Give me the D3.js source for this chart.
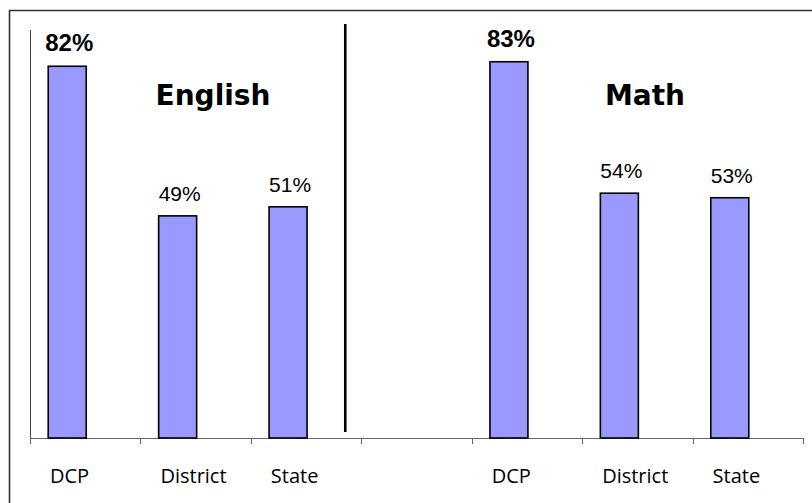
<!DOCTYPE html>
<html>
<head>
<meta charset="utf-8">
<script src="https://cdn.jsdelivr.net/npm/d3@7/dist/d3.min.js"></script>
<style>
  html, body { margin: 0; padding: 0; background: #fff; }
  svg { display: block; }
</style>
</head>
<body>
<svg id="chart" width="812" height="503"></svg>
<script>
// data
var subjects = ["English", "Math"];
var groups = ["DCP", "District", "State"];
var englishValues = [82, 49, 51];
var mathValues = [83, 54, 53];

var W = 812, H = 503;
var BASE_Y = 438, TOP_Y = 30;
var BAR_W = 38;
var TICK_SHIFT = 18; // axis ticks sit a bit right of the band edges

var svg = d3.select("#chart");

// 7 slots: 3 english, one empty, 3 math
var slots = [];
groups.forEach(function(g, i){ slots.push({slot: i, name: g, value: englishValues[i], subject: subjects[0]}); });
groups.forEach(function(g, i){ slots.push({slot: i + 4, name: g, value: mathValues[i], subject: subjects[1]}); });

var x = d3.scaleBand()
	.domain(d3.range(7))
	.range([12, 785])
	.paddingInner(0)
	.paddingOuter(0);

var y = d3.scaleLinear()
	.domain([0, 90])
	.range([BASE_Y, TOP_Y]);

// outer frame (only top and left visible)
svg.append("line")
	.attr("x1", 9).attr("x2", W)
	.attr("y1", 10.5).attr("y2", 10.5)
	.attr("stroke", "#333").attr("stroke-width", 1.6);
svg.append("line")
	.attr("x1", 9.5).attr("x2", 9.5)
	.attr("y1", 10).attr("y2", H)
	.attr("stroke", "#333").attr("stroke-width", 1.6);

// y axis line
svg.append("line")
	.attr("x1", 30.5).attr("x2", 30.5)
	.attr("y1", y(90)).attr("y2", BASE_Y)
	.attr("stroke", "#444").attr("stroke-width", 1);

// x axis with ticks at slot boundaries
var tickPos = d3.range(8).map(function(i){ return x(0) + i * x.step() + TICK_SHIFT; });
svg.append("line")
	.attr("x1", tickPos[0]).attr("x2", tickPos[7])
	.attr("y1", BASE_Y + 0.5).attr("y2", BASE_Y + 0.5)
	.attr("stroke", "#666").attr("stroke-width", 1);
svg.selectAll(".tick")
	.data(tickPos)
	.enter()
	.append("line")
	.attr("class", "tick")
	.attr("x1", function(d){ return Math.round(d) + 0.5; })
	.attr("x2", function(d){ return Math.round(d) + 0.5; })
	.attr("y1", BASE_Y)
	.attr("y2", BASE_Y + 6)
	.attr("stroke", "#666").attr("stroke-width", 1);

// divider between the two subjects
svg.append("line")
	.attr("x1", x(3) + 2).attr("x2", x(3) + 2)
	.attr("y1", 24).attr("y2", 432)
	.attr("stroke", "#000").attr("stroke-width", 2.6);

function center(d){ return x(d.slot) + x.bandwidth() / 2; }

// bars
svg.selectAll(".bar")
	.data(slots)
	.enter()
	.append("rect")
	.attr("class", "bar")
	.attr("x", function(d){ return center(d) - BAR_W / 2; })
	.attr("y", function(d){ return y(d.value); })
	.attr("width", BAR_W)
	.attr("height", function(d){ return BASE_Y - y(d.value); })
	.attr("fill", "#9999ff")
	.attr("stroke", "#000")
	.attr("stroke-width", 1.6);

// value labels, DCP ones are bold
svg.selectAll(".value")
	.data(slots)
	.enter()
	.append("text")
	.attr("class", "value")
	.attr("x", function(d){ return center(d) + 2; })
	.attr("y", function(d){ return y(d.value) - 15; })
	.attr("text-anchor", "middle")
	.attr("font-family", "Liberation Sans, Arial, sans-serif")
	.attr("font-size", function(d){ return d.name == "DCP" ? 24 : 21; })
	.attr("font-weight", function(d){ return d.name == "DCP" ? "bold" : "normal"; })
	.attr("fill", "#000")
	.text(function(d){ return d.value + "%"; });

// category labels, left aligned a little past each tick
svg.selectAll(".cat")
	.data(slots)
	.enter()
	.append("text")
	.attr("class", "cat")
	.attr("x", function(d){ return tickPos[d.slot] + 20; })
	.attr("y", 483)
	.attr("text-anchor", "start")
	.attr("font-family", "Open Sans, sans-serif")
	.attr("font-size", 20)
	.attr("fill", "#000")
	.text(function(d){ return d.name; });

// subject titles
var titlePos = [213, 645];
svg.selectAll(".subject")
	.data(subjects)
	.enter()
	.append("text")
	.attr("class", "subject")
	.attr("x", function(d, i){ return titlePos[i]; })
	.attr("y", 105)
	.attr("text-anchor", "middle")
	.attr("font-family", "DejaVu Sans, Verdana, sans-serif")
	.attr("font-weight", "bold")
	.attr("font-size", 28)
	.attr("fill", "#000")
	.text(function(d){ return d; });
</script>
</body>
</html>
